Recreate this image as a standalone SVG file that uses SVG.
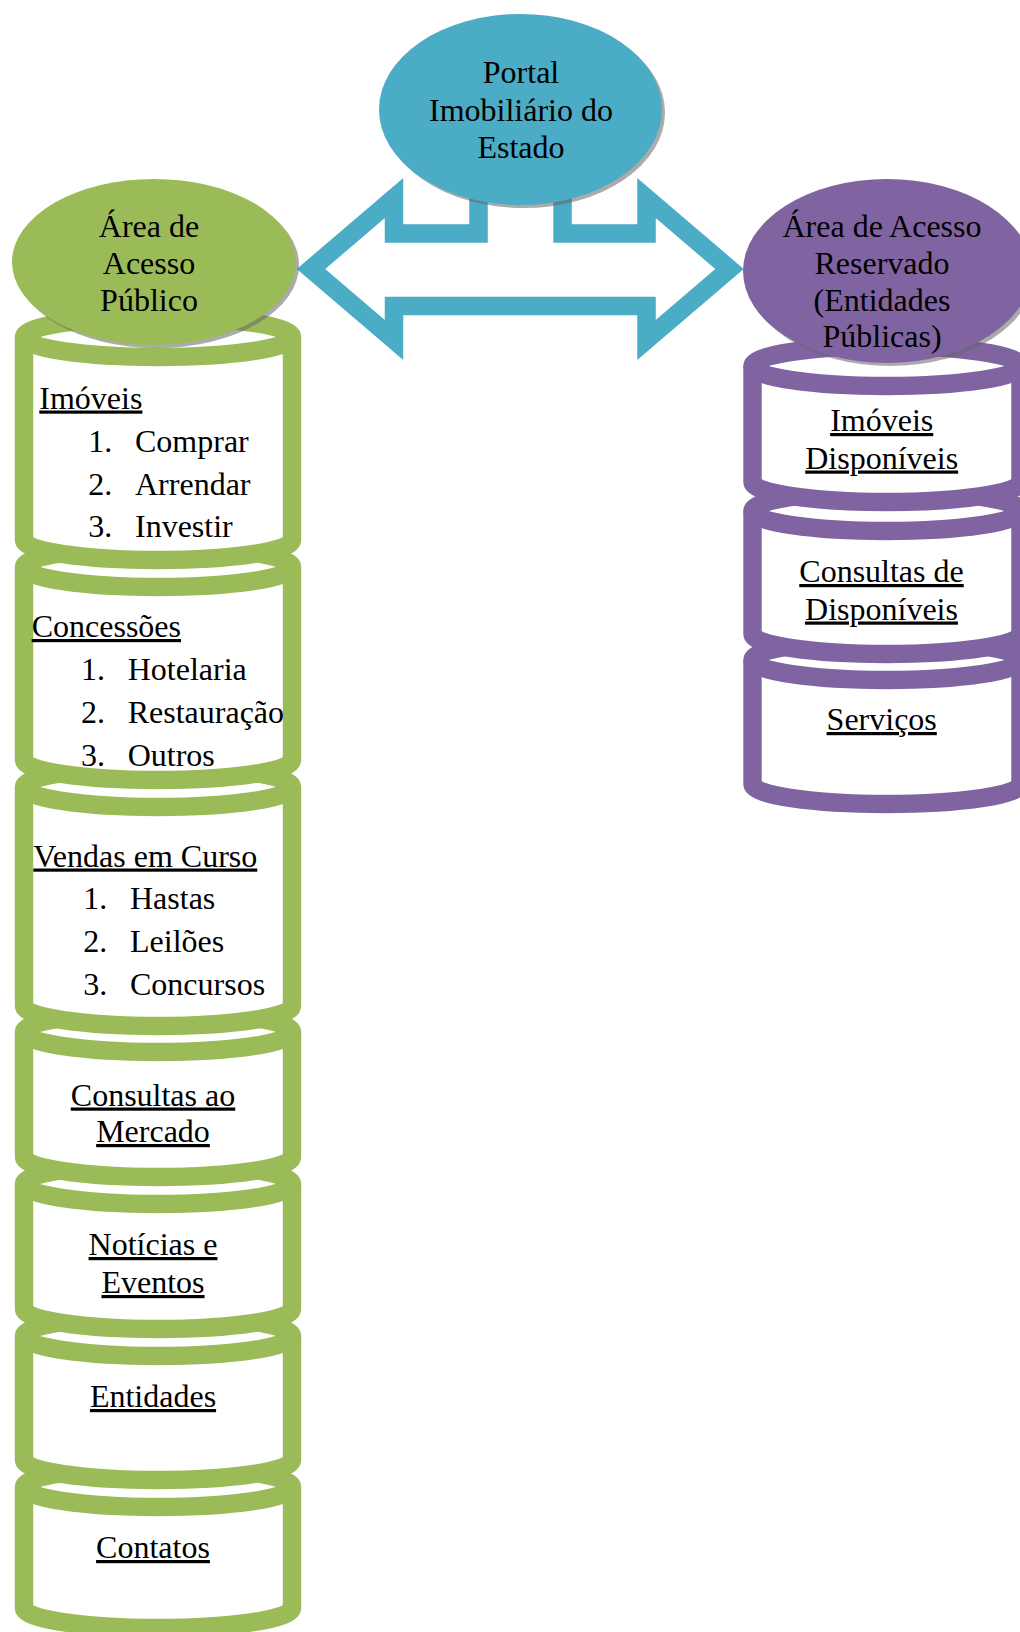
<svg xmlns="http://www.w3.org/2000/svg" width="1020" height="1632" viewBox="0 0 1020 1632">
<style>
 text { font-family: "Liberation Serif", "Times New Roman", serif; font-size: 32px; fill: #000; }
 .u { text-decoration: underline; }
 .c { text-anchor: middle; }
 .g path { fill: #fff; stroke: #9BBB59; stroke-width: 18.4; stroke-linejoin: round; }
 .p path { fill: #fff; stroke: #8064A2; stroke-width: 18.4; stroke-linejoin: round; }
 path.front { fill: none; }
 .shadow { fill: #666; opacity: 0.55; }
</style>
<rect width="1020" height="1632" fill="#fff"/>

<g id="connectors">
 <path d="M311,269 L394,198 L394,233.5 L478.5,233.5 L478.5,170 L562.5,170 L562.5,233.5 L646.5,233.5 L646.5,198 L729.5,269 L646.5,340 L646.5,306 L394,306 L394,340 Z" fill="none" stroke="#4BACC6" stroke-width="18.5" stroke-linejoin="miter"/>
</g>

<g id="contatos" class="g">
 <path d="M24,1487 A134,20 0 0 1 292,1487 L292,1608 A134,20 0 0 1 24,1608 Z"/>
 <path class="front" d="M24,1487 A134,20 0 0 0 292,1487"/>
 <text class="c u" x="153" y="1558">Contatos</text>
</g>
<g id="entidades" class="g">
 <path d="M24,1336 A134,20 0 0 1 292,1336 L292,1460 A134,20 0 0 1 24,1460 Z"/>
 <path class="front" d="M24,1336 A134,20 0 0 0 292,1336"/>
 <text class="c u" x="153" y="1407">Entidades</text>
</g>
<g id="noticias" class="g">
 <path d="M24,1184 A134,20 0 0 1 292,1184 L292,1309 A134,20 0 0 1 24,1309 Z"/>
 <path class="front" d="M24,1184 A134,20 0 0 0 292,1184"/>
 <text class="c u" x="153" y="1255">Notícias e</text>
 <text class="c u" x="153" y="1293">Eventos</text>
</g>
<g id="consultas-mercado" class="g">
 <path d="M24,1032 A134,20 0 0 1 292,1032 L292,1157 A134,20 0 0 1 24,1157 Z"/>
 <path class="front" d="M24,1032 A134,20 0 0 0 292,1032"/>
 <text class="c u" x="153" y="1105.5">Consultas ao</text>
 <text class="c u" x="153" y="1142">Mercado</text>
</g>
<g id="vendas" class="g">
 <path d="M24,787 A134,20 0 0 1 292,787 L292,1006 A134,20 0 0 1 24,1006 Z"/>
 <path class="front" d="M24,787 A134,20 0 0 0 292,787"/>
 <text class="u" x="33.3" y="866.5">Vendas em Curso</text>
 <text y="909"><tspan x="83.3">1.</tspan><tspan x="130">Hastas</tspan></text>
 <text y="952"><tspan x="83.3">2.</tspan><tspan x="130">Leilões</tspan></text>
 <text y="995"><tspan x="83.3">3.</tspan><tspan x="130">Concursos</tspan></text>
</g>
<g id="concessoes" class="g">
 <path d="M24,567 A134,20 0 0 1 292,567 L292,760 A134,20 0 0 1 24,760 Z"/>
 <path class="front" d="M24,567 A134,20 0 0 0 292,567"/>
 <text class="u" x="31.7" y="637">Concessões</text>
 <text y="680"><tspan x="81">1.</tspan><tspan x="127.7">Hotelaria</tspan></text>
 <text y="723"><tspan x="81">2.</tspan><tspan x="127.7">Restauração</tspan></text>
 <text y="766"><tspan x="81">3.</tspan><tspan x="127.7">Outros</tspan></text>
</g>
<g id="imoveis" class="g">
 <path d="M24,337 A134,20 0 0 1 292,337 L292,540 A134,20 0 0 1 24,540 Z"/>
 <path class="front" d="M24,337 A134,20 0 0 0 292,337"/>
 <text class="u" x="39.3" y="408.5">Imóveis</text>
 <text y="451.5"><tspan x="88.3">1.</tspan><tspan x="135">Comprar</tspan></text>
 <text y="494.5"><tspan x="88.3">2.</tspan><tspan x="135">Arrendar</tspan></text>
 <text y="537"><tspan x="88.3">3.</tspan><tspan x="135">Investir</tspan></text>
</g>

<g id="servicos" class="p">
 <path d="M752.5,660 A134,20 0 0 1 1020.5,660 L1020.5,784 A134,20 0 0 1 752.5,784 Z"/>
 <path class="front" d="M752.5,660 A134,20 0 0 0 1020.5,660"/>
 <text class="c u" x="881.7" y="730">Serviços</text>
</g>
<g id="consultas-disponiveis" class="p">
 <path d="M752.5,511 A134,20 0 0 1 1020.5,511 L1020.5,634 A134,20 0 0 1 752.5,634 Z"/>
 <path class="front" d="M752.5,511 A134,20 0 0 0 1020.5,511"/>
 <text class="c u" x="881.5" y="582">Consultas de</text>
 <text class="c u" x="881.5" y="619.5">Disponíveis</text>
</g>
<g id="imoveis-disponiveis" class="p">
 <path d="M752.5,366 A134,20 0 0 1 1020.5,366 L1020.5,482 A134,20 0 0 1 752.5,482 Z"/>
 <path class="front" d="M752.5,366 A134,20 0 0 0 1020.5,366"/>
 <text class="c u" x="881.7" y="431">Imóveis</text>
 <text class="c u" x="881.7" y="468.5">Disponíveis</text>
</g>

<g id="portal">
 <ellipse class="shadow" cx="523.5" cy="112.5" rx="141.5" ry="95.5"/>
 <ellipse cx="520.5" cy="109.5" rx="141.5" ry="95.5" fill="#4BACC6"/>
 <text class="c" x="521" y="83">Portal</text>
 <text class="c" x="521" y="120.5">Imobiliário do</text>
 <text class="c" x="521" y="158">Estado</text>
</g>
<g id="area-publico">
 <ellipse class="shadow" cx="157" cy="265" rx="142" ry="83"/>
 <ellipse cx="154" cy="262" rx="142" ry="83" fill="#9BBB59"/>
 <text class="c" x="149" y="237">Área de</text>
 <text class="c" x="149" y="274">Acesso</text>
 <text class="c" x="149" y="310.5">Público</text>
</g>
<g id="area-reservado">
 <ellipse class="shadow" cx="890" cy="274" rx="144" ry="92"/>
 <ellipse cx="887" cy="271" rx="144" ry="92" fill="#8064A2"/>
 <text class="c" x="882" y="237">Área de Acesso</text>
 <text class="c" x="882" y="274">Reservado</text>
 <text class="c" x="882" y="310.5">(Entidades</text>
 <text class="c" x="882" y="347">Públicas)</text>
</g>
</svg>
